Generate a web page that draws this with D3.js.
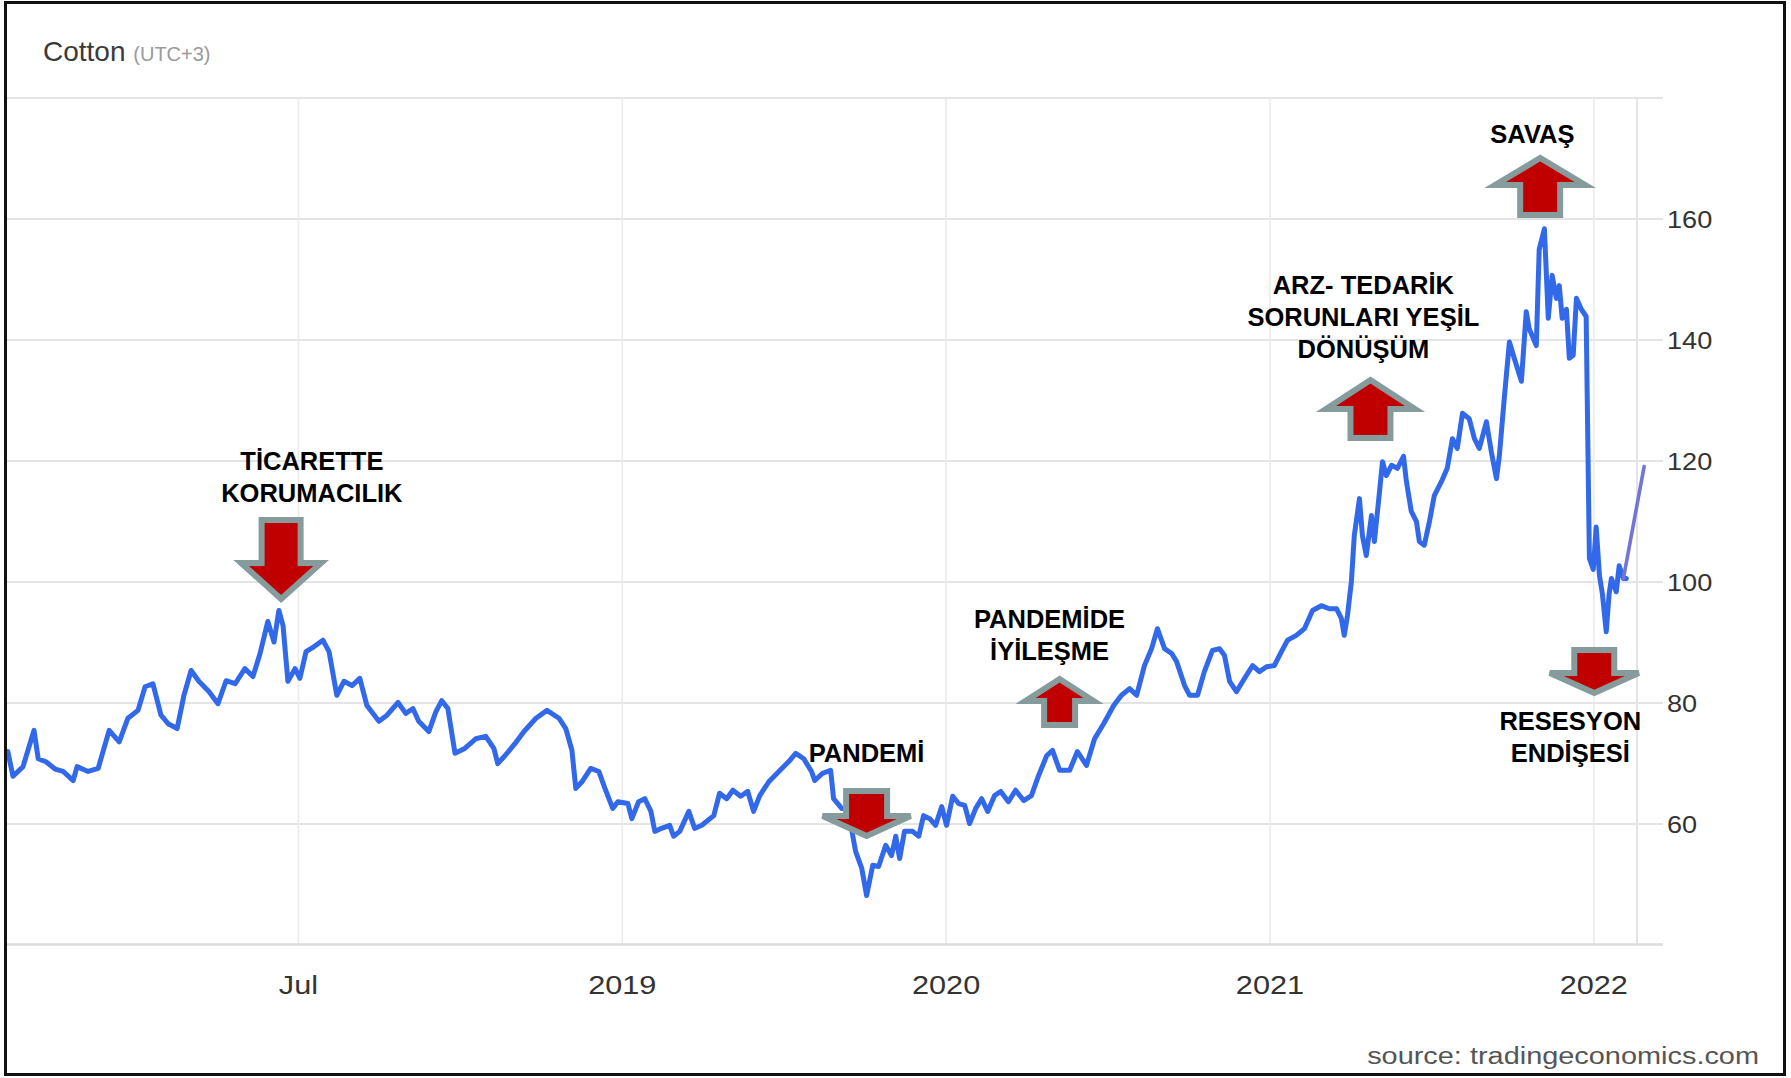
<!DOCTYPE html>
<html><head><meta charset="utf-8">
<script src="https://cdn.jsdelivr.net/npm/d3@7"></script>
<style>html,body{margin:0;padding:0;background:#fff;} svg{display:block;}</style>
</head><body>
<svg id="chart" width="1791" height="1078"></svg>
<script>
// ---- data ----
const years = [
2017.104,2017.120,2017.151,2017.185,2017.198,2017.222,2017.250,2017.275,2017.306,2017.318,
2017.352,2017.383,2017.417,2017.448,2017.475,2017.506,2017.528,2017.552,2017.577,2017.599,
2017.627,2017.648,2017.670,2017.694,2017.725,2017.753,2017.778,2017.806,2017.836,2017.861,
2017.883,2017.907,2017.926,2017.941,2017.954,2017.969,2017.991,2018.006,2018.025,2018.049,
2018.077,2018.096,2018.120,2018.142,2018.167,2018.191,2018.213,2018.250,2018.275,2018.309,
2018.333,2018.355,2018.373,2018.404,2018.426,2018.444,2018.463,2018.485,2018.515,2018.549,
2018.580,2018.605,2018.617,2018.639,2018.670,2018.698,2018.735,2018.769,2018.806,2018.827,
2018.846,2018.858,2018.877,2018.904,2018.929,2018.948,2018.972,2018.988,2019.019,2019.031,
2019.052,2019.071,2019.090,2019.102,2019.123,2019.148,2019.160,2019.179,2019.207,2019.225,
2019.247,2019.284,2019.302,2019.324,2019.343,2019.367,2019.389,2019.407,2019.426,2019.454,
2019.485,2019.515,2019.537,2019.562,2019.586,2019.596,2019.620,2019.645,2019.654,2019.679,
2019.698,2019.722,2019.741,2019.756,2019.775,2019.793,2019.815,2019.833,2019.846,2019.858,
2019.873,2019.898,2019.917,2019.932,2019.951,2019.969,2019.988,2020.003,2020.022,2020.040,
2020.059,2020.074,2020.093,2020.111,2020.130,2020.151,2020.170,2020.194,2020.216,2020.241,
2020.265,2020.287,2020.312,2020.330,2020.352,2020.383,2020.407,2020.435,2020.460,2020.488,
2020.519,2020.543,2020.568,2020.590,2020.614,2020.636,2020.654,2020.676,2020.698,2020.713,
2020.738,2020.753,2020.778,2020.799,2020.824,2020.846,2020.861,2020.877,2020.898,2020.929,
2020.948,2020.969,2020.991,2021.015,2021.037,2021.056,2021.083,2021.108,2021.133,2021.160,
2021.185,2021.207,2021.222,2021.231,2021.241,2021.253,2021.262,2021.278,2021.287,2021.299,
2021.315,2021.324,2021.340,2021.349,2021.361,2021.377,2021.395,2021.414,2021.423,2021.438,
2021.454,2021.463,2021.478,2021.494,2021.509,2021.531,2021.549,2021.565,2021.580,2021.596,
2021.617,2021.633,2021.648,2021.670,2021.685,2021.701,2021.710,2021.725,2021.741,2021.756,
2021.778,2021.793,2021.802,2021.824,2021.833,2021.849,2021.861,2021.873,2021.886,2021.895,
2021.904,2021.917,2021.926,2021.938,2021.948,2021.963,2021.978,2021.988,2022.000,2022.009,
2022.019,2022.028,2022.040,2022.049,2022.056,2022.071,2022.080,2022.093,2022.102
];
const prices = [
71.9,67.8,69.4,75.4,70.7,70.2,69.0,68.6,67.1,69.4,
68.6,69.1,75.4,73.5,77.4,78.7,82.6,83.1,77.9,76.5,
75.7,81.2,85.3,83.5,81.8,79.8,83.6,83.1,85.6,84.3,
88.1,93.4,90.0,95.2,92.7,83.5,85.6,84.0,88.4,89.2,
90.3,88.4,81.2,83.5,82.8,84.0,79.5,76.9,77.9,80.0,
78.2,79.0,76.9,75.2,78.5,80.3,79.0,71.6,72.4,74.0,
74.4,72.4,69.9,71.2,73.2,75.2,77.4,78.7,77.4,75.7,
72.1,65.8,66.9,69.1,68.6,65.8,62.5,63.6,63.3,60.8,
63.6,64.1,62.0,58.7,59.2,59.7,57.9,58.7,62.0,59.2,
59.7,61.3,65.0,64.1,65.5,64.5,65.3,62.0,64.6,66.9,
68.6,70.2,71.6,70.7,68.6,67.1,68.3,68.8,64.1,62.5,
62.5,55.4,52.6,48.1,53.1,52.9,56.4,54.7,57.9,54.2,
58.7,58.7,57.9,61.3,60.8,59.7,62.8,59.7,64.5,63.3,
63.0,60.0,62.5,64.1,62.0,64.6,65.3,63.6,65.5,63.8,
64.6,67.9,71.2,72.1,68.8,68.8,71.9,69.6,74.0,76.5,
79.5,81.2,82.3,81.2,86.1,88.9,92.2,88.9,88.1,86.8,
82.8,81.2,81.2,85.1,88.6,88.9,87.8,83.5,81.8,84.5,
86.1,85.1,85.9,86.1,88.4,90.3,91.1,92.2,95.2,96.0,
95.5,95.5,93.9,91.1,94.4,100.0,107.6,113.7,107.6,104.3,
110.9,106.6,114.9,119.8,117.5,119.2,118.7,120.7,116.5,111.6,
109.9,106.6,106.0,109.9,114.2,116.5,118.7,123.6,122.0,127.8,
126.9,123.6,122.0,126.4,121.5,117.0,120.8,130.2,139.6,136.9,
133.1,144.6,141.8,139.0,154.9,158.3,143.5,150.6,146.8,148.9,
143.5,145.0,136.9,137.4,146.8,145.0,143.8,103.8,102.0,109.0,
101.0,98.0,91.7,98.0,100.5,98.3,102.6,100.5,100.5
];
// short forecast segment
const projYears = [2022.093, 2022.157];
const projPrices = [100.5, 119.0];

const yTickValues = [60, 80, 100, 120, 140, 160];
const yGridValues = [60, 80, 100, 120, 140, 160, 180];
const xTickValues = [2018, 2019, 2020, 2021, 2022];
const xTickLabels = ["Jul", "2019", "2020", "2021", "2022"];

const titleText = "Cotton";
const subtitleText = "(UTC+3)";
const sourceText = "source: tradingeconomics.com";

// annotation anchors in data space (arrow tip / first text baseline)
const arrowTips = [
  {t: 2017.948, v: 96.45, dir: "down"},
  {t: 2019.756, v: 57.27, dir: "down"},
  {t: 2020.352, v: 84.55, dir: "up"},
  {t: 2021.312, v: 133.97, dir: "up"},
  {t: 2021.836, v: 170.66, dir: "up"},
  {t: 2022.003, v: 80.91, dir: "down"}
];
const labelAnchors = [
  {t: 2018.043, v: 118.43, lines: ["TİCARETTE", "KORUMACILIK"]},
  {t: 2019.756, v: 70.17, lines: ["PANDEMİ"]},
  {t: 2020.321, v: 92.31, lines: ["PANDEMİDE", "İYİLEŞME"]},
  {t: 2021.290, v: 147.52, lines: ["ARZ- TEDARİK", "SORUNLARI YEŞİL", "DÖNÜŞÜM"]},
  {t: 2021.812, v: 172.48, lines: ["SAVAŞ"]},
  {t: 2021.929, v: 75.45, lines: ["RESESYON", "ENDİŞESİ"]}
];

// ---- layout / style ----
const W = 1791, H = 1078;
const plot = {left: 6.5, right: 1637, top: 97.5, bottom: 944.5};
const gridRight = 1663;
const gridLeft = 7;
// arrow sizes (px): width, length, shaft width, head length
const arrowSizes = [
  {w: 90, len: 86, shaft: 45, head: 43},
  {w: 98, len: 52, shaft: 47, head: 27},
  {w: 78, len: 53, shaft: 37, head: 29},
  {w: 99, len: 65, shaft: 46, head: 36},
  {w: 100, len: 64, shaft: 46, head: 34},
  {w: 99, len: 50, shaft: 46, head: 27}
];
const FONT = "'Liberation Sans', Arial, Helvetica, sans-serif";
const STRETCH = 1.18;

const svg = d3.select("#chart");
svg.append("rect").attr("width", W).attr("height", H).attr("fill", "#fff");

const x = d3.scaleLinear().domain([2017.1, 2022.135]).range([plot.left, plot.right]);
const y = d3.scaleLinear().domain([40, 180]).range([plot.bottom, plot.top]);

// horizontal grid
const hGrid = svg.append("g")
  .attr("transform", `translate(${gridLeft},0)`)
  .call(d3.axisLeft(y).tickValues(yGridValues).tickSize(-(gridRight - gridLeft)).tickFormat(""));
hGrid.select(".domain").remove();
hGrid.selectAll("line").attr("stroke", "#e4e4e4").attr("stroke-width", 2);

// vertical grid
const vGrid = svg.append("g")
  .attr("transform", `translate(0,${plot.bottom})`)
  .call(d3.axisBottom(x).tickValues(xTickValues).tickSize(-(plot.bottom - plot.top)).tickFormat(""));
vGrid.select(".domain").remove();
vGrid.selectAll("line").attr("stroke", "#ebebeb").attr("stroke-width", 1.6);
svg.append("line")
  .attr("x1", plot.right).attr("x2", plot.right)
  .attr("y1", plot.top).attr("y2", plot.bottom)
  .attr("stroke", "#e4e4e4").attr("stroke-width", 2);

// bottom axis line
svg.append("line")
  .attr("x1", gridLeft).attr("x2", gridRight)
  .attr("y1", y(40)).attr("y2", y(40))
  .attr("stroke", "#dcdcdc").attr("stroke-width", 2.5);

// y labels
const yAxis = svg.append("g")
  .attr("transform", `translate(1667,0)`)
  .call(d3.axisRight(y).tickValues(yTickValues).tickSize(0).tickPadding(0));
yAxis.select(".domain").remove();
yAxis.selectAll("text")
  .attr("x", 0).attr("dy", "0.37em")
  .attr("text-anchor", "start")
  .attr("transform", `scale(${STRETCH},1)`)
  .style("font-family", FONT).style("font-size", "23px").attr("fill", "#333");

// x labels
const xAxis = svg.append("g")
  .attr("transform", `translate(0,${plot.bottom})`)
  .call(d3.axisBottom(x).tickValues(xTickValues).tickSize(0)
    .tickFormat((d, i) => xTickLabels[i]));
xAxis.select(".domain").remove();
xAxis.selectAll("text")
  .attr("y", 49.5).attr("dy", 0)
  .attr("transform", `scale(${STRETCH},1)`)
  .style("font-family", FONT).style("font-size", "26px").attr("fill", "#333");

// series line
const line = d3.line().x(d => x(d[0])).y(d => y(d[1]));
svg.append("path")
  .datum(d3.zip(years, prices))
  .attr("d", line)
  .attr("fill", "none")
  .attr("stroke", "#3268ea")
  .attr("stroke-width", 5)
  .attr("stroke-linejoin", "round")
  .attr("stroke-linecap", "round");

svg.append("path")
  .datum(d3.zip(projYears, projPrices))
  .attr("d", line)
  .attr("fill", "none")
  .attr("stroke", "#7474d4")
  .attr("stroke-width", 3.6)
  .attr("stroke-linecap", "round");

// title
const title = svg.append("text")
  .attr("transform", `translate(43,61)`)
  .style("font-family", FONT);
title.append("tspan").text(titleText + " ").style("font-size", "28px").attr("fill", "#3a3a3a");
title.append("tspan").text(subtitleText).style("font-size", "20px").attr("fill", "#9a9a9a");

// source
svg.append("text")
  .attr("transform", `translate(1759,1064) scale(${STRETCH},1)`)
  .attr("text-anchor", "end")
  .style("font-family", FONT).style("font-size", "24.5px").attr("fill", "#555")
  .text(sourceText);

// arrows
const s = 3;
arrowTips.forEach((a, i) => {
  const sz = arrowSizes[i];
  const cx = x(a.t), py = y(a.v);
  const d = a.dir === "down" ? 1 : -1;
  const tail = py - d * (sz.len - s);
  const shoulder = py - d * (sz.head - s);
  const tip = py - d * 4;
  const sh = sz.shaft / 2 - s, hh = sz.w / 2 - s - 2;
  const pts = [[cx - sh, tail], [cx + sh, tail], [cx + sh, shoulder], [cx + hh, shoulder],
               [cx, tip], [cx - hh, shoulder], [cx - sh, shoulder]];
  svg.append("polygon")
    .attr("points", pts.map(p => p.join(",")).join(" "))
    .attr("fill", "#c00000")
    .attr("stroke", "#869c9c")
    .attr("stroke-width", 2 * s)
    .attr("stroke-linejoin", "miter");
});

// annotation labels
labelAnchors.forEach(l => {
  const t = svg.append("text")
    .attr("text-anchor", "middle")
    .style("font-family", FONT).style("font-size", "25.5px").style("font-weight", "bold")
    .attr("fill", "#000");
  l.lines.forEach((ln, j) => {
    t.append("tspan").attr("x", x(l.t)).attr("y", y(l.v) + j * 32).text(ln);
  });
});

// outer frame
svg.append("rect")
  .attr("x", 5.5).attr("y", 2.5).attr("width", 1779).attr("height", 1072)
  .attr("fill", "none").attr("stroke", "#111").attr("stroke-width", 3);
</script>
</body></html>
